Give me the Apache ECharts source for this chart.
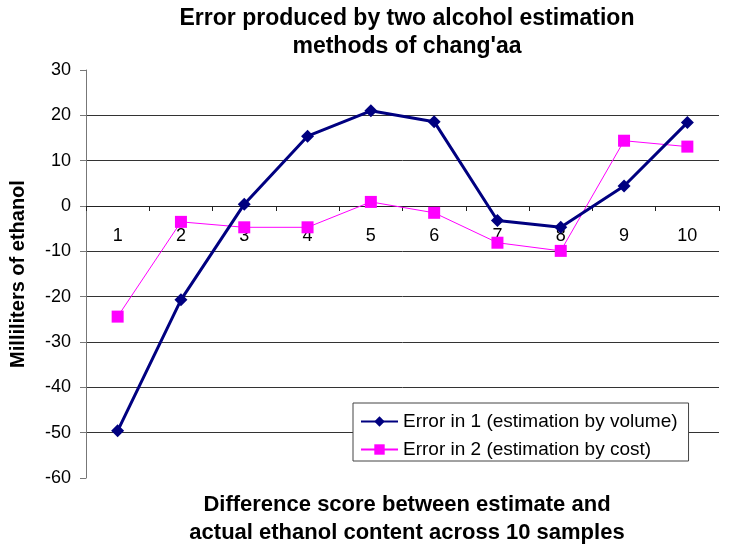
<!DOCTYPE html>
<html><head><meta charset="utf-8">
<script src="https://cdn.jsdelivr.net/npm/echarts@6/dist/echarts.min.js"></script>
<style>html,body{margin:0;padding:0;background:#fff}#c{width:729px;height:554px}</style>
</head><body><div id="c"></div>
<script>
var categories = ['1','2','3','4','5','6','7','8','9','10'];
var volumeErrors = [-49.6, -20.7, 0.4, 15.4, 21.0, 18.6, -3.2, -4.7, 4.4, 18.4];
var costErrors = [-24.4, -3.5, -4.7, -4.7, 0.9, -1.5, -8.1, -9.9, 14.4, 13.1];
var gridValues = [-50, -40, -30, -20, -10, 10, 20];
var seriesNames = ['Error in 1 (estimation by volume)', 'Error in 2 (estimation by cost)'];
var chartTitleLines = ["Error produced by two alcohol estimation", "methods of chang'aa"];
var xTitleLines = ['Difference score between estimate and', 'actual ethanol content across 10 samples'];
var yTitle = 'Milliliters of ethanol';

var chart = echarts.init(document.getElementById('c'));
var F = '"Liberation Sans", Arial, Helvetica, sans-serif';
function textLine(str, cx, cy, size) {
  return {type: 'text', x: cx, y: cy, z: 10,
    style: {text: str, fontFamily: F, fontWeight: 'bold', fontSize: size, fill: '#000',
            align: 'center', textAlign: 'center', verticalAlign: 'middle', textVerticalAlign: 'middle'}};
}
chart.setOption({
  animation: false,
  backgroundColor: '#fff',
  grid: {left: 84, right: 10, top: 70, bottom: 76},
  graphic: [
    textLine(chartTitleLines[0], 407, 19, 23),
    textLine(chartTitleLines[1], 407, 47, 23),
    textLine(xTitleLines[0], 407, 505, 22),
    textLine(xTitleLines[1], 407, 533, 22)
  ],
  legend: {
    orient: 'vertical', left: 353, top: 403,
    backgroundColor: '#fff', borderColor: '#444', borderWidth: 1,
    padding: [9, 11, 2, 7], itemGap: 9, itemWidth: 37, itemHeight: 13,
    textStyle: {fontFamily: F, fontSize: 19, color: '#000'},
    data: seriesNames
  },
  xAxis: {
    type: 'category', data: categories, boundaryGap: true,
    axisLine: {onZero: true, lineStyle: {color: '#222', width: 1}},
    axisTick: {show: true, length: 5, inside: false, lineStyle: {color: '#222'}},
    axisLabel: {margin: -251, fontFamily: F, fontSize: 18, color: '#000'},
    splitLine: {show: false}
  },
  yAxis: {
    type: 'value', min: -60, max: 30, interval: 10,
    name: yTitle, nameLocation: 'middle', nameGap: 58, nameRotate: 90,
    nameTextStyle: {fontFamily: F, fontWeight: 'bold', fontSize: 20, color: '#000'},
    axisLine: {show: true, lineStyle: {color: '#777'}},
    axisTick: {show: true, length: 6, lineStyle: {color: '#777'}},
    axisLabel: {margin: 15, fontFamily: F, fontSize: 18, color: '#000'},
    splitLine: {show: false},
    showMinLabel: true, showMaxLabel: true
  },
  series: [
    {name: seriesNames[0], type: 'line', data: volumeErrors, symbol: 'diamond', symbolSize: 13,
     lineStyle: {color: '#000080', width: 3}, itemStyle: {color: '#000080'}, z: 3,
     markLine: {silent: true, symbol: ['none', 'none'], label: {show: false}, z: 0,
       lineStyle: {color: '#333', width: 1, type: 'solid'},
       data: gridValues.map(function (v) { return {yAxis: v}; })}},
    {name: seriesNames[1], type: 'line', data: costErrors, symbol: 'rect', symbolSize: 12,
     lineStyle: {color: '#FF00FF', width: 1}, itemStyle: {color: '#FF00FF'}, z: 2}
  ]
});
</script></body></html>
